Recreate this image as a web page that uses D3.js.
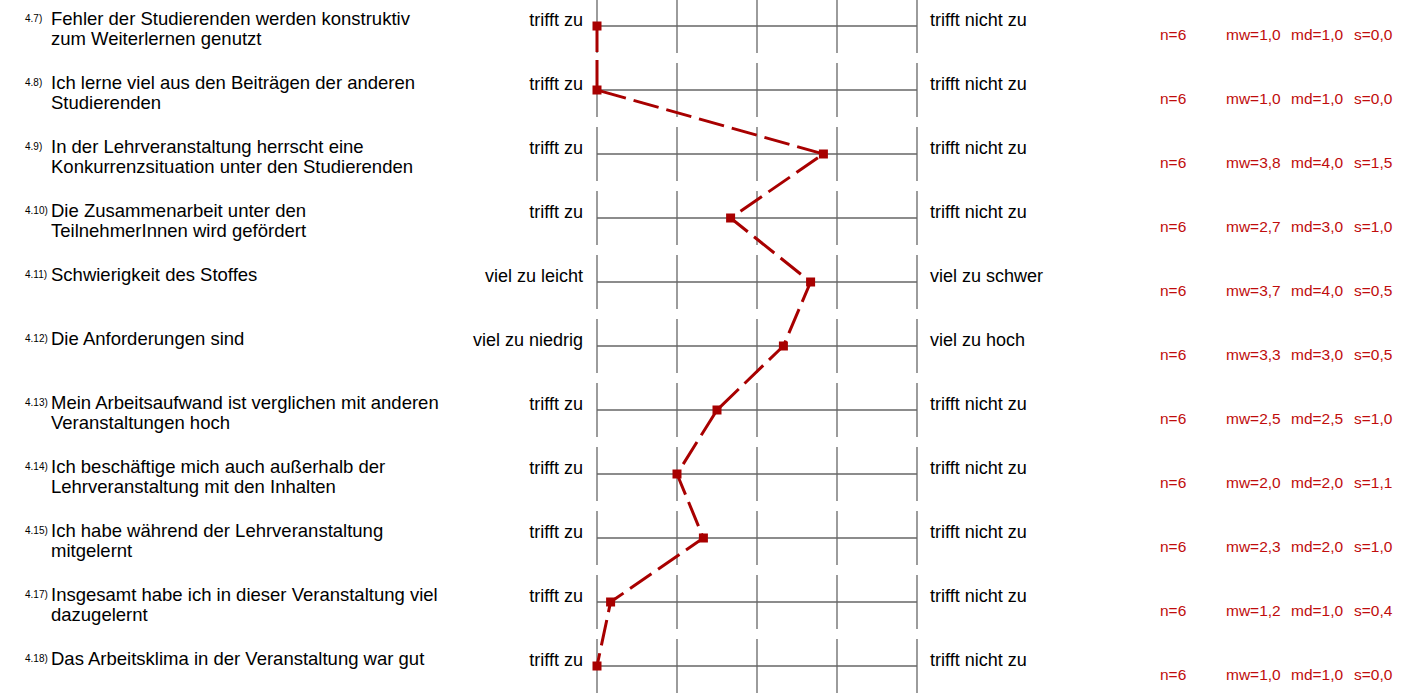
<!DOCTYPE html>
<html>
<head>
<meta charset="utf-8">
<script src="https://cdn.jsdelivr.net/npm/d3@7"></script>
<style>
  body { margin: 0; background: #fff; }
  svg { display: block; font-family: "Liberation Sans", Arial, sans-serif; }
</style>
</head>
<body>
<div id="chart"></div>
<script>
var ids = ["4.7)", "4.8)", "4.9)", "4.10)", "4.11)", "4.12)", "4.13)", "4.14)", "4.15)", "4.17)", "4.18)"]
var questions = [
  ["Fehler der Studierenden werden konstruktiv", "zum Weiterlernen genutzt"],
  ["Ich lerne viel aus den Beiträgen der anderen", "Studierenden"],
  ["In der Lehrveranstaltung herrscht eine", "Konkurrenzsituation unter den Studierenden"],
  ["Die Zusammenarbeit unter den", "TeilnehmerInnen wird gefördert"],
  ["Schwierigkeit des Stoffes"],
  ["Die Anforderungen sind"],
  ["Mein Arbeitsaufwand ist verglichen mit anderen", "Veranstaltungen hoch"],
  ["Ich beschäftige mich auch außerhalb der", "Lehrveranstaltung mit den Inhalten"],
  ["Ich habe während der Lehrveranstaltung", "mitgelernt"],
  ["Insgesamt habe ich in dieser Veranstaltung viel", "dazugelernt"],
  ["Das Arbeitsklima in der Veranstaltung war gut"]
]
var leftLabels = ["trifft zu", "trifft zu", "trifft zu", "trifft zu", "viel zu leicht", "viel zu niedrig",
  "trifft zu", "trifft zu", "trifft zu", "trifft zu", "trifft zu"]
var rightLabels = ["trifft nicht zu", "trifft nicht zu", "trifft nicht zu", "trifft nicht zu", "viel zu schwer", "viel zu hoch",
  "trifft nicht zu", "trifft nicht zu", "trifft nicht zu", "trifft nicht zu", "trifft nicht zu"]
// marker positions (means)
var means = [1.0, 1.0, 3.83, 2.67, 3.67, 3.33, 2.5, 2.0, 2.33, 1.17, 1.0]
var nVals = [6, 6, 6, 6, 6, 6, 6, 6, 6, 6, 6]
var mwText = ["1,0", "1,0", "3,8", "2,7", "3,7", "3,3", "2,5", "2,0", "2,3", "1,2", "1,0"]
var mdText = ["1,0", "1,0", "4,0", "3,0", "4,0", "3,0", "2,5", "2,0", "2,0", "1,0", "1,0"]
var sText = ["0,0", "0,0", "1,5", "1,0", "0,5", "0,5", "1,0", "1,1", "1,0", "0,4", "0,0"]
var scaleSteps = [1, 2, 3, 4, 5]

var width = 1411, height = 693
var lineRed = "#a80000", textRed = "#c00c0c", grid = "#666666"

var svg = d3.select("#chart").append("svg")
  .attr("width", width)
  .attr("height", height)

var x = d3.scaleLinear().domain([1, 5]).range([597, 917])
var y = d3.scalePoint().domain(ids).range([26, 666])

var rows = svg.selectAll("g.row")
  .data(ids)
  .enter()
  .append("g")
  .attr("class", "row")
  .attr("transform", function(d) { return "translate(0," + y(d) + ")" })

// grid
rows.append("line")
  .attr("x1", x(1)).attr("x2", x(5))
  .attr("y1", 0).attr("y2", 0)
  .style("stroke", grid).style("stroke-width", 1.3)

rows.selectAll("line.tick")
  .data(scaleSteps)
  .enter()
  .append("line")
  .attr("class", "tick")
  .attr("x1", function(d) { return x(d) }).attr("x2", function(d) { return x(d) })
  .attr("y1", -27).attr("y2", 27)
  .style("stroke", grid).style("stroke-width", 1.3)

// labels
rows.append("text")
  .attr("x", 25).attr("y", -4)
  .style("font-size", "10px")
  .text(function(d) { return d })

rows.append("text")
  .attr("x", 51).attr("y", -1)
  .style("font-size", "18.5px")
  .selectAll("tspan")
  .data(function(d, i) { return questions[i] })
  .enter()
  .append("tspan")
  .attr("x", 51)
  .attr("dy", function(d, i) { return i === 0 ? 0 : 20 })
  .text(function(d) { return d })

rows.append("text")
  .attr("x", 583).attr("y", 0)
  .attr("text-anchor", "end")
  .style("font-size", "18px")
  .text(function(d, i) { return leftLabels[i] })

rows.append("text")
  .attr("x", 930).attr("y", 0)
  .style("font-size", "18px")
  .text(function(d, i) { return rightLabels[i] })

// stats
var stats = rows.append("g").style("fill", textRed).style("font-size", "15.5px")
stats.append("text").attr("x", 1160).attr("y", 14).text(function(d, i) { return "n=" + nVals[i] })
stats.append("text").attr("x", 1226).attr("y", 14).text(function(d, i) { return "mw=" + mwText[i] })
stats.append("text").attr("x", 1291).attr("y", 14).text(function(d, i) { return "md=" + mdText[i] })
stats.append("text").attr("x", 1354).attr("y", 14).text(function(d, i) { return "s=" + sText[i] })

// profile line
var line = d3.line()
  .x(function(d) { return x(d.v) })
  .y(function(d) { return y(d.id) })

var pts = ids.map(function(d, i) { return { id: d, v: means[i] } })

svg.append("path")
  .datum(pts)
  .attr("d", line)
  .style("fill", "none")
  .style("stroke", lineRed)
  .style("stroke-width", 3)
  .style("stroke-dasharray", "26,8")

svg.selectAll("rect.marker")
  .data(pts)
  .enter()
  .append("rect")
  .attr("class", "marker")
  .attr("x", function(d) { return x(d.v) - 4.5 })
  .attr("y", function(d) { return y(d.id) - 4.5 })
  .attr("width", 9).attr("height", 9)
  .style("fill", lineRed)
</script>
</body>
</html>
